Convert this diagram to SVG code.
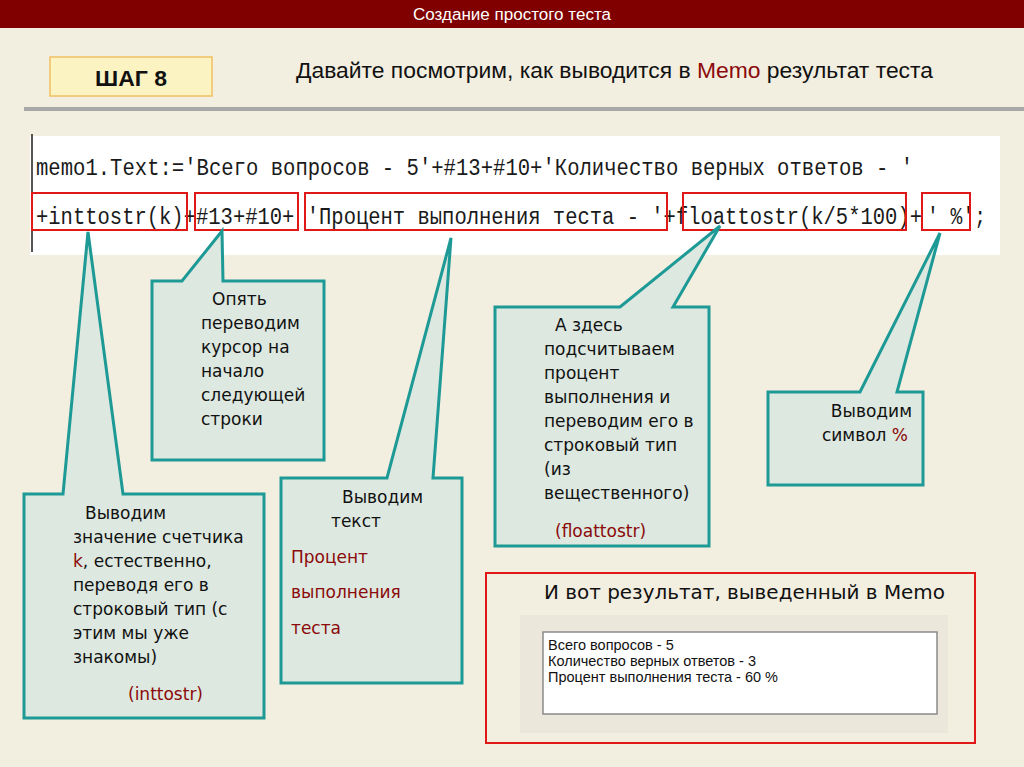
<svg xmlns="http://www.w3.org/2000/svg" width="1024" height="767" viewBox="0 0 1024 767">
<style>
.bg{fill:#f2eee0}
.callout{fill:#dde8e0;stroke:#1e9a96;stroke-width:3;stroke-linejoin:miter}
.ct{font-family:"DejaVu Sans",Verdana,sans-serif;font-size:17px;fill:#111}
.red{fill:#8b0a0a}
.code{font-family:"Liberation Mono","Courier New",monospace;font-size:23px;fill:#1a1a1a}
.hl{fill:none;stroke:#e01818;stroke-width:2}
.memo{font-family:"Liberation Sans",Tahoma,sans-serif;font-size:14.5px;fill:#111}
</style>
<rect class="bg" x="0" y="0" width="1024" height="767"/>
<g id="titlebar">
<rect x="0" y="0" width="1024" height="28" fill="#800000"/>
<text x="512" y="20" text-anchor="middle" font-family="Liberation Sans,sans-serif" font-size="16" fill="#ffffff" textLength="198" lengthAdjust="spacingAndGlyphs">Создание простого теста</text>
</g>
<g id="step">
<rect x="50" y="57" width="162" height="39" fill="#fbf3c2" stroke="#f0c060" stroke-width="1.5"/>
<text x="131" y="86" text-anchor="middle" font-family="Liberation Sans,sans-serif" font-size="22" font-weight="bold" fill="#111" textLength="72" lengthAdjust="spacingAndGlyphs">ШАГ 8</text>
</g>
<g id="heading">
<text x="296" y="78" font-family="Liberation Sans,sans-serif" font-size="22" fill="#111" textLength="637" lengthAdjust="spacingAndGlyphs">Давайте посмотрим, как выводится в <tspan class="red">Memo</tspan> результат теста</text>
</g>
<rect x="24" y="107" width="1000" height="4" fill="#a8a8a8"/>
<g id="code">
<rect x="30" y="136" width="970" height="119" fill="#ffffff"/>
<rect x="31" y="134" width="2" height="118" fill="#555"/>
<text class="code" x="36" y="175" textLength="877" lengthAdjust="spacingAndGlyphs">memo1.Text:='Всего вопросов - 5'+#13+#10+'Количество верных ответов - '</text>
<text class="code" x="36" y="224" textLength="886" lengthAdjust="spacingAndGlyphs" xml:space="preserve">+inttostr(k)+#13+#10+ 'Процент выполнения теста - '+floattostr(k/5*100)+</text>
<text class="code" x="927" y="224" textLength="59" lengthAdjust="spacingAndGlyphs" xml:space="preserve">' %';</text>
<rect class="hl" x="32" y="193" width="155" height="37"/>
<rect class="hl" x="195" y="193" width="103" height="37"/>
<rect class="hl" x="305" y="193" width="362" height="37"/>
<rect class="hl" x="683" y="193" width="223" height="37"/>
<rect class="hl" x="922" y="193" width="48" height="37"/>
</g>
<g id="connectors"></g>
<g id="callout-inttostr">
<path class="callout" d="M24,494 L63,494 L88,232 L123,494 L264,494 L264,718 L24,718 Z"/>
<text class="ct" x="85" y="519">Выводим</text>
<text class="ct" x="73" y="543">значение счетчика</text>
<text class="ct" x="73" y="567"><tspan class="red">k</tspan>, естественно,</text>
<text class="ct" x="73" y="591">переводя его в</text>
<text class="ct" x="73" y="615">строковый тип (с</text>
<text class="ct" x="73" y="639">этим мы уже</text>
<text class="ct" x="73" y="663">знакомы)</text>
<text class="ct red" x="128" y="700">(inttostr)</text>
</g>
<g id="callout-newline">
<path class="callout" d="M152,281 L182,281 L222,231 L223,281 L324,281 L324,460 L152,460 Z"/>
<text class="ct" x="212" y="305">Опять</text>
<text class="ct" x="201" y="329">переводим</text>
<text class="ct" x="201" y="353">курсор на</text>
<text class="ct" x="201" y="377">начало</text>
<text class="ct" x="201" y="401">следующей</text>
<text class="ct" x="201" y="425">строки</text>
</g>
<g id="callout-text">
<path class="callout" d="M281,478 L387,478 L451,238 L433,478 L462,478 L462,683 L281,683 Z"/>
<text class="ct" x="342" y="503">Выводим</text>
<text class="ct" x="331" y="527">текст</text>
<text class="ct red" x="291" y="563">Процент</text>
<text class="ct red" x="291" y="598">выполнения</text>
<text class="ct red" x="291" y="634">теста</text>
</g>
<g id="callout-floattostr">
<path class="callout" d="M495,307 L620,307 L720,226 L673,307 L709,307 L709,546 L495,546 Z"/>
<text class="ct" x="555" y="331">А здесь</text>
<text class="ct" x="544" y="355">подсчитываем</text>
<text class="ct" x="544" y="379">процент</text>
<text class="ct" x="544" y="403">выполнения и</text>
<text class="ct" x="544" y="427">переводим его в</text>
<text class="ct" x="544" y="451">строковый тип</text>
<text class="ct" x="544" y="475">(из</text>
<text class="ct" x="544" y="499">вещественного)</text>
<text class="ct red" x="555" y="537">(floattostr)</text>
</g>
<g id="callout-percent">
<path class="callout" d="M768,392 L860,392 L940,233 L897,392 L923,392 L923,485 L768,485 Z"/>
<text class="ct" x="912" y="417" text-anchor="end">Выводим</text>
<text class="ct" x="908" y="441" text-anchor="end">символ <tspan class="red">%</tspan></text>
</g>
<g id="result">
<rect x="486" y="573" width="489" height="170" fill="none" stroke="#e01818" stroke-width="2"/>
<text x="544" y="599" font-family="DejaVu Sans,Verdana,sans-serif" font-size="20" fill="#111" textLength="401" lengthAdjust="spacingAndGlyphs">И вот результат, выведенный в Memo</text>
<rect x="520" y="615" width="428" height="118" fill="#ebe7da"/>
<rect x="543" y="632" width="394" height="82" fill="#ffffff" stroke="#8a8a8a" stroke-width="1.5"/>
<text class="memo" x="548" y="650">Всего вопросов - 5</text>
<text class="memo" x="548" y="666">Количество верных ответов - 3</text>
<text class="memo" x="548" y="682">Процент выполнения теста - 60 %</text>
</g>
</svg>
